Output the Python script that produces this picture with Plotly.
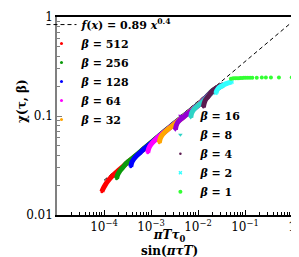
import plotly.graph_objects as go

# ---- data ----
fit_x = [1e-4, 1.0]
fit_y = [0.0224, 0.89]

x_512 = [9.0e-5, 9.5e-5, 1.05e-4, 1.2e-4, 1.5e-4, 2e-4, 3e-4, 5e-4, 7e-4, 1e-3, 1.5e-3, 2e-3, 3e-3, 5e-3, 7e-3, 1e-2, 1.5e-2, 2e-2, 2.5e-2, 3e-2]
y_512 = [0.0172, 0.0183, 0.0199, 0.0219, 0.0247, 0.0280, 0.0332, 0.0405, 0.0465, 0.0535, 0.0630, 0.0705, 0.0825, 0.1000, 0.1135, 0.1300, 0.1550, 0.1780, 0.1920, 0.2020]

x_256 = [1.85e-4, 1.95e-4, 2.15e-4, 2.5e-4, 3e-4, 4e-4, 5e-4, 7e-4, 1e-3, 1.5e-3, 2e-3, 3e-3, 5e-3, 7e-3, 1e-2, 1.5e-2, 2e-2, 2.5e-2, 3e-2]
y_256 = [0.0233, 0.0255, 0.0276, 0.0301, 0.0334, 0.0373, 0.0407, 0.0467, 0.0538, 0.0633, 0.0709, 0.0829, 0.1005, 0.1141, 0.1307, 0.1558, 0.1789, 0.1930, 0.2030]

x_128 = [3.7e-4, 3.9e-4, 4.3e-4, 5e-4, 6e-4, 7e-4, 1e-3, 1.5e-3, 2e-3, 3e-3, 5e-3, 7e-3, 1e-2, 1.5e-2, 2e-2, 2.5e-2, 3e-2]
y_128 = [0.0307, 0.0339, 0.0367, 0.0399, 0.0432, 0.0463, 0.0532, 0.0627, 0.0701, 0.0821, 0.0995, 0.1129, 0.1294, 0.1542, 0.1771, 0.1910, 0.2010]

x_64 = [8.5e-4, 8.9e-4, 9.6e-4, 1.1e-3, 1.3e-3, 1.5e-3, 2e-3, 3e-3, 5e-3, 7e-3, 1e-2, 1.5e-2, 2e-2, 2.5e-2, 3e-2]
y_64 = [0.0425, 0.0466, 0.0502, 0.0545, 0.0588, 0.0624, 0.0698, 0.0817, 0.0990, 0.1124, 0.1287, 0.1535, 0.1762, 0.1901, 0.2000]

x_32 = [1.5e-3, 1.57e-3, 1.7e-3, 1.95e-3, 2.3e-3, 3e-3, 4e-3, 5e-3, 7e-3, 1e-2, 1.5e-2, 2e-2, 2.5e-2, 3e-2]
y_32 = [0.0536, 0.0590, 0.0636, 0.0684, 0.0735, 0.0813, 0.0906, 0.0985, 0.1118, 0.1281, 0.1527, 0.1753, 0.1891, 0.1990]

x_16 = [3.3e-3, 3.45e-3, 3.7e-3, 4.2e-3, 5e-3, 6e-3, 7e-3, 1e-2, 1.5e-2, 2e-2, 2.5e-2, 3e-2]
y_16 = [0.0728, 0.0802, 0.0861, 0.0919, 0.0980, 0.1055, 0.1112, 0.1274, 0.1519, 0.1744, 0.1882, 0.1980]

x_8 = [7.0e-3, 7.3e-3, 7.9e-3, 9e-3, 1.05e-2, 1.25e-2, 1.5e-2, 2e-2, 2.5e-2, 3e-2, 3.5e-2]
y_8 = [0.0965, 0.1062, 0.1143, 0.1221, 0.1300, 0.1393, 0.1519, 0.1744, 0.1882, 0.1980, 0.2038]

x_4 = [1.3e-2, 1.36e-2, 1.47e-2, 1.65e-2, 1.9e-2, 2.2e-2, 2.6e-2, 3e-2, 3.5e-2]
y_4 = [0.1227, 0.1352, 0.1476, 0.1578, 0.1727, 0.1849, 0.1950, 0.2020, 0.2080]

x_2 = [2.4e-2, 2.5e-2, 2.7e-2, 3e-2, 3.5e-2, 4e-2, 4.6e-2, 5.3e-2]
y_2 = [0.170, 0.180, 0.190, 0.198, 0.206, 0.212, 0.217, 0.221]

x_1 = [0.050, 0.054, 0.058, 0.063, 0.068, 0.074, 0.080, 0.087, 0.095, 0.104, 0.115, 0.128, 0.143, 0.178, 0.228, 0.278, 0.356, 0.527, 0.99]
y_1 = [0.238, 0.239, 0.240, 0.240, 0.241, 0.241, 0.242, 0.242, 0.243, 0.243, 0.243, 0.244, 0.244, 0.244, 0.245, 0.245, 0.245, 0.245, 0.246]

x_tick_vals = [1e-4, 1e-3, 1e-2, 1e-1, 1]
x_tick_text = ["10<sup>−4</sup>", "10<sup>−3</sup>", "10<sup>−2</sup>", "10<sup>−1</sup>", "1"]
y_tick_vals = [0.01, 0.1, 1]
y_tick_text = ["0.01", "0.1", "1"]

SERIF = "DejaVu Serif"

series = [
    ("512", x_512, y_512, "#ff0000", "circle", 3, "legend"),
    ("256", x_256, y_256, "#0a9a0a", "circle", 3, "legend"),
    ("128", x_128, y_128, "#0000ff", "circle", 3, "legend"),
    ("64", x_64, y_64, "#ff00ff", "circle", 3, "legend"),
    ("32", x_32, y_32, "#ffa500", "circle", 3, "legend"),
    ("16", x_16, y_16, "#9400d3", "triangle-down", 4, "legend2"),
    ("8", x_8, y_8, "#2ed3c6", "triangle-down", 4, "legend2"),
    ("4", x_4, y_4, "#5b1a4f", "circle", 2.5, "legend2"),
    ("2", x_2, y_2, "#33ffff", "x", 3.5, "legend2"),
]

fig = go.Figure()

fig.add_trace(go.Scatter(
    x=fit_x, y=fit_y, mode="lines",
    line=dict(color="black", width=1, dash="4px,3px"),
    name="<b><i>f</i>(<i>x</i>) = 0.89 <i>x</i><sup>0.4</sup></b>",
    legend="legend",
))

for name, xs, ys, color, sym, size, leg in series:
    fig.add_trace(go.Scatter(
        x=xs, y=ys, mode="lines", line=dict(color=color, width=5, shape="spline", smoothing=0.6),
        showlegend=False, hoverinfo="skip", legend=leg,
    ))
    fig.add_trace(go.Scatter(
        x=xs, y=ys, mode="markers",
        marker=dict(color=color, symbol=sym, size=size, line=dict(width=0)),
        name="<b><i>β</i> = " + name + "</b>", legend=leg,
    ))

fig.add_trace(go.Scatter(
    x=x_1, y=y_1, mode="markers",
    marker=dict(color="#33ff33", symbol="circle", size=4, line=dict(width=0)),
    name="<b><i>β</i> = 1</b>", legend="legend2",
))

fig.update_layout(
    width=299, height=257,
    margin=dict(l=49, r=15, t=9, b=50, autoexpand=False),
    plot_bgcolor="white", paper_bgcolor="white",
    font=dict(family=SERIF, size=11, color="black"),
    legend=dict(
        x=-0.066, y=1.035, xanchor="left", yanchor="top",
        bgcolor="rgba(0,0,0,0)", borderwidth=0,
        font=dict(family=SERIF, size=11, color="black"),
        itemwidth=30, tracegroupgap=0,
    ),
    legend2=dict(
        x=0.44, y=0.575, xanchor="left", yanchor="top",
        bgcolor="rgba(0,0,0,0)", borderwidth=0,
        font=dict(family=SERIF, size=11, color="black"),
        itemwidth=30, tracegroupgap=0,
    ),
    xaxis=dict(
        type="log", range=[-5, 0.0],
        tickmode="array", tickvals=x_tick_vals, ticktext=x_tick_text,
        ticks="inside", ticklen=5, tickcolor="black",
        minor=dict(ticks="inside", ticklen=3, dtick="D1", showgrid=False, tickcolor="black"),
        showline=True, linecolor="black", linewidth=1.5, mirror=True,
        showgrid=False, zeroline=False,
        tickfont=dict(family=SERIF, size=12),
    ),
    yaxis=dict(
        type="log", range=[-2, 0],
        tickmode="array", tickvals=y_tick_vals, ticktext=y_tick_text,
        ticks="inside", ticklen=5, tickcolor="#808080",
        minor=dict(ticks="inside", ticklen=3, dtick="D1", showgrid=False, tickcolor="#808080"),
        showline=True, linecolor="#808080", linewidth=1.5, mirror=False,
        showgrid=False, zeroline=False,
        tickfont=dict(family=SERIF, size=12),
    ),
    shapes=[dict(type="line", xref="paper", yref="paper", x0=1, x1=1, y0=0, y1=1,
                 line=dict(color="black", width=1))],
    annotations=[
        dict(text="<b>χ(τ, β)</b>", textangle=-90, xref="paper", yref="paper",
             x=-0.15, y=0.575, showarrow=False, xanchor="center", yanchor="middle",
             font=dict(family=SERIF, size=12)),
        dict(text="<b><i>πTτ</i><sub>0</sub></b><br><b>sin(<i>πτT</i>)</b>", xref="paper", yref="paper",
             x=0.48, y=-0.057, showarrow=False, xanchor="center", yanchor="top",
             font=dict(family=SERIF, size=12)),
    ],
)

fig.write_html("out.html")
